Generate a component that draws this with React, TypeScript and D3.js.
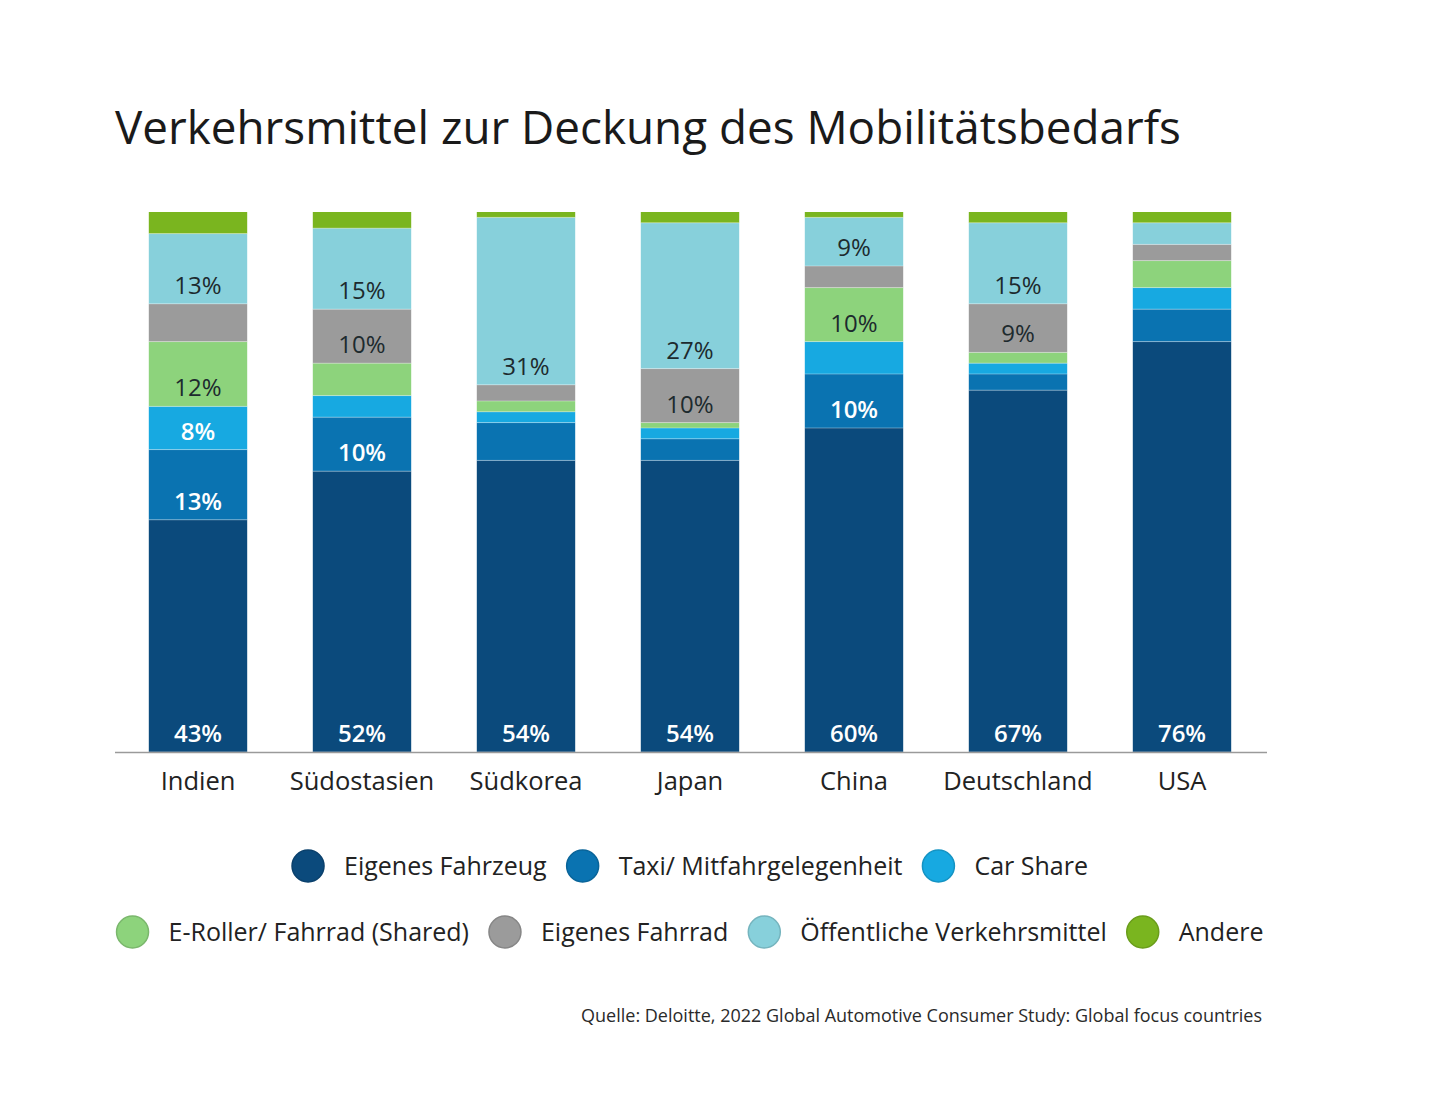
import * as d3 from "d3";
import { useEffect, useRef } from "react";

const WIDTH = 1440;
const HEIGHT = 1105;

const countries = ["Indien", "Südostasien", "Südkorea", "Japan", "China", "Deutschland", "USA"];

const seriesNames = [
    "Eigenes Fahrzeug",
    "Taxi/ Mitfahrgelegenheit",
    "Car Share",
    "E-Roller/ Fahrrad (Shared)",
    "Eigenes Fahrrad",
    "Öffentliche Verkehrsmittel",
    "Andere",
];

// shares in %, per country (same order as countries)
const eigenesFahrzeug = [43, 52, 54, 54, 60, 67, 76];
const taxi = [13, 10, 7, 4, 10, 3, 6];
const carShare = [8, 4, 2, 2, 6, 2, 4];
const eRoller = [12, 6, 2, 1, 10, 2, 5];
const eigenesFahrrad = [7, 10, 3, 10, 4, 9, 3];
const oeffentliche = [13, 15, 31, 27, 9, 15, 4];
const andere = [4, 3, 1, 2, 1, 2, 2];

const seriesValues = [eigenesFahrzeug, taxi, carShare, eRoller, eigenesFahrrad, oeffentliche, andere];

const colors = ["#0b4a7c", "#0a73b1", "#17a9e1", "#8dd37c", "#9b9b9b", "#87d0db", "#7ab51f"];
const labelColors = ["#ffffff", "#ffffff", "#ffffff", "#1d2a2e", "#1d2a2e", "#1d2a2e", "#1d2a2e"];

const legendRows = [
    [0, 1, 2],
    [3, 4, 5, 6],
];

const FONT = "'Open Sans', 'Noto Sans', sans-serif";

export default function App() {
    const svgRef = useRef<SVGSVGElement | null>(null);

    useEffect(() => {
        if (!svgRef.current) return;
        const svg = d3.select(svgRef.current);
        svg.selectAll("*").remove();

        svg.append("rect").attr("width", WIDTH).attr("height", HEIGHT).attr("fill", "#ffffff");

        svg.append("text")
            .attr("x", 115)
            .attr("y", 144)
            .attr("font-family", FONT)
            .attr("font-size", 45.8)
            .attr("fill", "#1a1a1a")
            .text("Verkehrsmittel zur Deckung des Mobilitätsbedarfs");

        const x = d3.scaleBand<string>().domain(countries).range([116, 1264]).paddingInner(0.4).paddingOuter(0.2);
        const y = d3.scaleLinear().domain([0, 100]).range([752, 212]);

        const rows = countries.map((c, i) => {
            const row: Record<string, number | string> = { country: c };
            seriesNames.forEach((s, j) => (row[s] = seriesValues[j][i]));
            return row;
        });
        const stacked = d3.stack<Record<string, number | string>>().keys(seriesNames)(rows);

        const layers = svg
            .append("g")
            .selectAll("g")
            .data(stacked)
            .enter()
            .append("g")
            .attr("fill", (_, i) => colors[i]);

        layers
            .selectAll("rect")
            .data((d) => d)
            .enter()
            .append("rect")
            .attr("x", (d) => x(String(d.data.country)) ?? 0)
            .attr("y", (d) => y(d[1]))
            .attr("width", x.bandwidth())
            .attr("height", (d) => y(d[0]) - y(d[1]));

        // thin light separators between segments
        layers
            .selectAll("line")
            .data((d) => d)
            .enter()
            .append("line")
            .attr("x1", (d) => x(String(d.data.country)) ?? 0)
            .attr("x2", (d) => (x(String(d.data.country)) ?? 0) + x.bandwidth())
            .attr("y1", (d) => y(d[0]))
            .attr("y2", (d) => y(d[0]))
            .attr("stroke", "#ffffff")
            .attr("stroke-opacity", 0.35)
            .attr("stroke-width", 1);

        layers.each(function (layer, li) {
            d3.select(this)
                .selectAll("text")
                .data(layer.filter((d) => d[1] - d[0] >= 8))
                .enter()
                .append("text")
                .attr("x", (d) => (x(String(d.data.country)) ?? 0) + x.bandwidth() / 2)
                .attr("y", (d) => y(d[0]) - 10)
                .attr("text-anchor", "middle")
                .attr("font-family", FONT)
                .attr("font-size", 24)
                .attr("font-weight", li < 3 ? 600 : 400)
                .attr("fill", labelColors[li])
                .text((d) => `${Math.round(d[1] - d[0])}%`);
        });

        // baseline
        svg.append("line")
            .attr("x1", 115)
            .attr("x2", 1267)
            .attr("y1", y(0) + 0.5)
            .attr("y2", y(0) + 0.5)
            .attr("stroke", "#9a9a9a")
            .attr("stroke-width", 1.5);

        const axis = svg
            .append("g")
            .attr("transform", `translate(0,${y(0)})`)
            .call(d3.axisBottom(x).tickSize(0).tickPadding(20));
        axis.select(".domain").remove();
        axis.selectAll("text")
            .attr("font-family", FONT)
            .attr("font-size", 25.5)
            .attr("fill", "#222222")
            .attr("dy", "0.71em");

        // legend
        const legendY = [866, 932];
        const cx = 690;
        const r = 16;
        const gap = 20;
        legendRows.forEach((row, ri) => {
            const g = svg.append("g");
            const items = row.map((si) => {
                const item = g.append("g");
                item.append("circle")
                    .attr("cx", 0)
                    .attr("cy", 0)
                    .attr("r", r)
                    .attr("fill", colors[si])
                    .attr("stroke", d3.color(colors[si])!.darker(0.4).formatHex())
                    .attr("stroke-width", 1.5);
                const t = item
                    .append("text")
                    .attr("x", 36)
                    .attr("y", 0)
                    .attr("dy", "0.35em")
                    .attr("font-family", FONT)
                    .attr("font-size", 25)
                    .attr("fill", "#222222")
                    .text(seriesNames[si]);
                const w = (t.node() as SVGTextElement).getComputedTextLength();
                return { item, w: 36 + w };
            });
            const total = d3.sum(items, (d) => d.w + r) + gap * (items.length - 1);
            let pos = cx - total / 2 + r;
            items.forEach((it) => {
                it.item.attr("transform", `translate(${pos},${legendY[ri]})`);
                pos += it.w + gap + r;
            });
        });

        svg.append("text")
            .attr("x", 1262)
            .attr("y", 1022)
            .attr("text-anchor", "end")
            .attr("font-family", FONT)
            .attr("font-size", 18)
            .attr("fill", "#2a2a2a")
            .text("Quelle: Deloitte, 2022 Global Automotive Consumer Study: Global focus countries");

        return () => {
            svg.selectAll("*").remove();
        };
    }, []);

    return (
        <div style={{ position: "absolute", left: 0, top: 0 }}>
            <svg ref={svgRef} width={WIDTH} height={HEIGHT} style={{ display: "block" }} />
        </div>
    );
}
